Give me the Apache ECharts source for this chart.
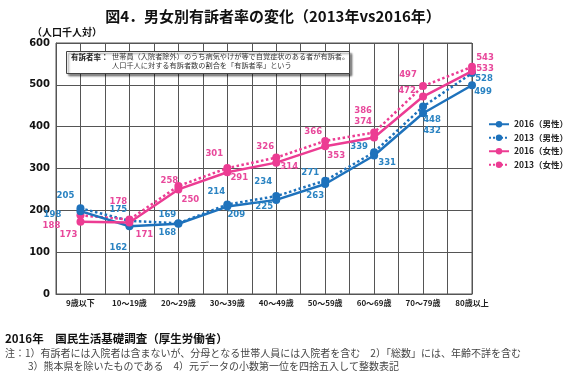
<!DOCTYPE html>
<html><head><meta charset="utf-8">
<script src="https://cdn.jsdelivr.net/npm/echarts@6/dist/echarts.min.js"></script>
<style>html,body{margin:0;padding:0;background:#fff}#c{width:570px;height:376px}</style>
</head><body><div id="c"></div>
<script>
const categories = ['9歳以下','10～19歳','20～29歳','30～39歳','40～49歳','50～59歳','60～69歳','70～79歳','80歳以上'];
const male2016 = [198,162,168,209,225,263,331,432,499];
const male2013 = [205,175,169,214,234,271,339,448,528];
const female2016 = [173,171,250,291,314,353,374,472,533];
const female2013 = [188,178,258,301,326,366,386,497,543];
const yTicks = [0,100,200,300,400,500,600];

// label offsets (style only)
const offM16 = [[-28,4],[-11,22],[-11,9],[9,8],[-12,7],[-10,12],[13,7],[9,18],[11,7]];
const offM13 = [[-15,-12],[-11,-11],[-11,-9],[-11,-13],[-13,-14],[-15,-8],[-15,-5],[9,13],[12,6]];
const offF16 = [[-12,13],[15,12],[12,10],[12,6],[13,4],[11,9],[-11,-16],[-16,-6],[13,-2]];
const offF13 = [[-29,10],[-11,-18],[-9,-5],[-13,-14],[-11,-11],[-12,-9],[-11,-22],[-15,-11],[13,-9]];

const BLUE = '#1e72bc', PINK = '#ec3c93';
const BLUE_L = '#2a83c2', PINK_L = '#e8489b';

function mk(name, vals, offs, color, lcolor, dotted) {
  return {
    name, type: 'line',
    data: vals.map((v, i) => ({
      value: [2 * i + 1, v],
      label: { offset: offs[i] }
    })),
    symbol: 'circle', symbolSize: 8,
    itemStyle: { color },
    lineStyle: { color, width: 2.5, type: dotted ? 'dotted' : 'solid' },
    label: {
      show: true, position: 'inside', color: lcolor,
      fontFamily: 'DejaVu Sans', fontWeight: 'bold', fontSize: 8.5,
      formatter: p => p.value[1]
    },
    z: dotted ? 3 : 4
  };
}

const chart = echarts.init(document.getElementById('c'), null, { renderer: 'canvas' });
chart.setOption({
  animation: false,
  title: {
    text: '図4．男女別有訴者率の変化（2013年vs2016年）',
    left: 268, top: 4, textAlign: 'center',
    textStyle: { fontFamily: 'Noto Sans CJK JP', fontWeight: 'bold', fontSize: 15, color: '#111' }
  },
  grid: { left: 56, right: 98, top: 43, bottom: 82, show: true, borderColor: '#555', borderWidth: 1 },
  legend: {
    orient: 'vertical', left: 483, top: 115, itemWidth: 20, itemHeight: 8, itemGap: 5,
    textStyle: { fontFamily: 'Noto Sans CJK JP', fontWeight: 'bold', fontSize: 8.5, color: '#222' },
    data: ['2016（男性）','2013（男性）','2016（女性）','2013（女性）']
  },
  xAxis: {
    type: 'value', min: 0, max: 17, interval: 1,
    axisLine: { show: true, lineStyle: { color: '#555' } },
    axisTick: { show: false },
    splitLine: { show: true, lineStyle: { color: '#555', width: 1 } },
    axisLabel: {
      margin: 5, fontFamily: 'Noto Sans CJK JP', fontWeight: 'bold', fontSize: 8, color: '#222',
      formatter: v => (v % 2 === 1) ? categories[(v - 1) / 2] : ''
    }
  },
  yAxis: {
    type: 'value', min: 0, max: 600, interval: 100,
    name: '（人口千人対）', nameLocation: 'end', nameGap: 6,
    nameTextStyle: { fontFamily: 'Noto Sans CJK JP', fontWeight: 'bold', fontSize: 10, color: '#111', align: 'left', padding: [0, 0, 0, -24] },
    axisLine: { show: true, lineStyle: { color: '#555' } },
    axisTick: { show: false },
    splitLine: { show: true, lineStyle: { color: '#555', width: 1 } },
    axisLabel: { margin: 6, fontFamily: 'DejaVu Sans', fontWeight: 'bold', fontSize: 10, color: '#111',
      formatter: v => yTicks.includes(v) ? String(v) : '' }
  },
  graphic: [
    { type: 'rect', left: 66, top: 51, shape: { width: 283, height: 22 },
      style: { fill: '#fff', stroke: '#444', lineWidth: 1, shadowBlur: 2, shadowOffsetX: 2, shadowOffsetY: 2, shadowColor: 'rgba(0,0,0,0.45)' }, z: 100 },
    { type: 'text', left: 71, top: 53, z: 101,
      style: { text: '有訴者率：', font: 'bold 7.5px "Noto Sans CJK JP"', fill: '#222' } },
    { type: 'text', left: 112, top: 53, z: 101,
      style: { text: '世帯員（入院者除外）のうち病気やけが等で自覚症状のある者が有訴者。', font: '7.2px "Noto Sans CJK JP"', fill: '#333' } },
    { type: 'text', left: 112, top: 62, z: 101,
      style: { text: '人口千人に対する有訴者数の割合を「有訴者率」という', font: '7.2px "Noto Sans CJK JP"', fill: '#333' } },
    { type: 'text', left: 5, top: 333, z: 101,
      style: { text: '2016年　国民生活基礎調査（厚生労働省）', font: 'bold 11.5px "Noto Sans CJK JP"', fill: '#111' } },
    { type: 'text', left: 5, top: 348, z: 101,
      style: { text: '注：1）有訴者には入院者は含まないが、分母となる世帯人員には入院者を含む　2）「総数」には、年齢不詳を含む', font: '10px "Noto Sans CJK JP"', fill: '#444' } },
    { type: 'text', left: 28, top: 361, z: 101,
      style: { text: '3）熊本県を除いたものである　4）元データの小数第一位を四捨五入して整数表記', font: '10px "Noto Sans CJK JP"', fill: '#444' } }
  ],
  series: [
    mk('2016（男性）', male2016, offM16, BLUE, BLUE_L, false),
    mk('2013（男性）', male2013, offM13, BLUE, BLUE_L, true),
    mk('2016（女性）', female2016, offF16, PINK, PINK_L, false),
    mk('2013（女性）', female2013, offF13, PINK, PINK_L, true)
  ]
});
</script></body></html>
